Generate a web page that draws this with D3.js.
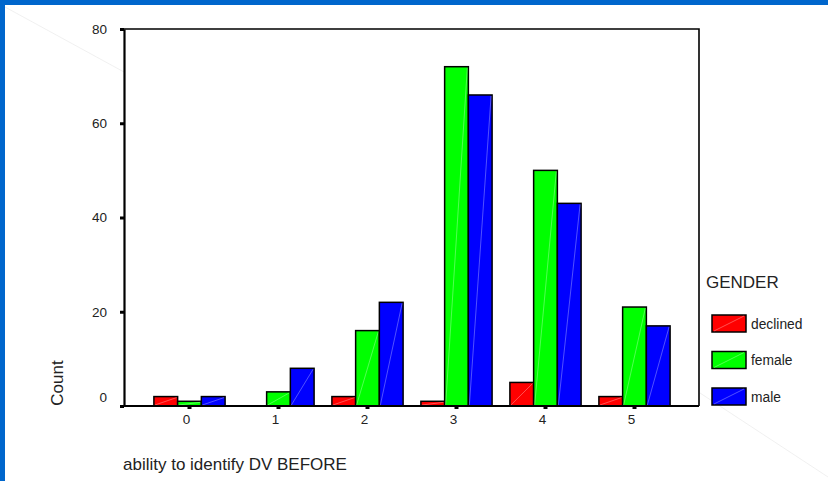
<!DOCTYPE html>
<html><head><meta charset="utf-8">
<script src="https://cdn.jsdelivr.net/npm/d3@7"></script>
<style>
html,body{margin:0;padding:0;background:#fff;}
svg{display:block;font-family:"Liberation Sans",Arial,sans-serif;}
</style></head>
<body>
<svg id="chart" width="828" height="481"></svg>
<script>
const categories = ["0","1","2","3","4","5"];
const seriesNames = ["declined","female","male"];
const declined = [2, 0, 2, 1, 5, 2];
const female   = [1, 3, 16, 72, 50, 21];
const male     = [2, 8, 22, 66, 43, 17];
const yTicks = [0, 20, 40, 60, 80];
const colors = ["#ff0000", "#00ff00", "#0000ff"];
const xTitle = "ability to identify DV BEFORE";
const yTitle = "Count";
const legendTitle = "GENDER";

const seriesValues = [declined, female, male];
const svg = d3.select("#chart");

// slide frame
svg.append("rect").attr("x",0).attr("y",0).attr("width",828).attr("height",481).attr("fill","#fff");
svg.append("line").attr("x1",5).attr("y1",7).attr("x2",124).attr("y2",72).attr("stroke","#e6e6e6").attr("stroke-width",0.6);
svg.append("line").attr("x1",700).attr("y1",393).attr("x2",828).attr("y2",477).attr("stroke","#e6e6e6").attr("stroke-width",0.6);
svg.append("rect").attr("x",0).attr("y",0).attr("width",828).attr("height",5).attr("fill","#0066cc");
svg.append("rect").attr("x",0).attr("y",0).attr("width",5).attr("height",481).attr("fill","#0066cc");

const plot = {left:124, right:699, top:29, bottom:406};

const x0 = d3.scaleBand().domain(categories).range([145, 679]).paddingInner(0.2).paddingOuter(0.1);
const x1 = d3.scaleBand().domain(seriesNames).range([0, x0.bandwidth()]);
const y = d3.scaleLinear().domain([0, 80]).range([plot.bottom, plot.top]);

// plot frame (top and right)
svg.append("path")
  .attr("d", `M${plot.left},${plot.top}H${plot.right}V${plot.bottom}`)
  .attr("fill","none").attr("stroke","#000").attr("stroke-width",1.6);

// bars
const rows = categories.map((c,i)=>({cat:c, vals: seriesNames.map((s,j)=>({s, j, v: seriesValues[j][i]}))}));
const g = svg.append("g");
const groups = g.selectAll("g.grp").data(rows).join("g").attr("class","grp")
  .attr("transform", d=>`translate(${x0(d.cat)},0)`);
const bars = groups.selectAll("g.bar").data(d=>d.vals.filter(v=>v.v>0)).join("g").attr("class","bar");
bars.append("rect")
  .attr("x", d=>x1(d.s)).attr("y", d=>y(d.v))
  .attr("width", x1.bandwidth()).attr("height", d=>y(0)-y(d.v))
  .attr("fill", d=>colors[d.j]).attr("stroke","#000").attr("stroke-width",1.5);
bars.append("line")
  .attr("x1", d=>x1(d.s)+1).attr("y1", y(0)-1)
  .attr("x2", d=>x1(d.s)+x1.bandwidth()-1).attr("y2", d=>y(d.v)+1)
  .attr("stroke","#fff").attr("stroke-opacity",0.45).attr("stroke-width",0.7);

// y axis
const yAxis = svg.append("g").attr("transform",`translate(${plot.left},0)`)
  .call(d3.axisLeft(y).tickValues(yTicks).tickSize(4).tickSizeOuter(0).tickPadding(13));
yAxis.select(".domain").attr("stroke","#000").attr("stroke-width",2.2);
yAxis.selectAll(".tick line").attr("stroke","#000").attr("stroke-width",3);
yAxis.selectAll(".tick text").attr("font-size","13.5px").attr("fill","#222")
  .attr("font-family","Liberation Sans, Arial, sans-serif")
  .attr("dy", d=> d===0 ? "-0.3em" : "0.32em");

// x axis
const xAxis = svg.append("g").attr("transform",`translate(0,${plot.bottom})`)
  .call(d3.axisBottom(x0).tickSize(3).tickSizeOuter(0).tickPadding(5));
xAxis.select(".domain").attr("d", `M${plot.left-3},0H${plot.right}`).attr("stroke","#000").attr("stroke-width",2.2);
xAxis.selectAll(".tick line").attr("stroke","#000").attr("stroke-width",4);
xAxis.selectAll(".tick text").attr("font-size","13.5px").attr("fill","#222")
  .attr("font-family","Liberation Sans, Arial, sans-serif").attr("dx","-3");

// titles
svg.append("text").attr("x",123).attr("y",470).attr("font-size","17px").attr("fill","#222").text(xTitle);
svg.append("text").attr("transform","translate(63,383) rotate(-90)").attr("text-anchor","middle")
  .attr("font-size","17px").attr("fill","#222").text(yTitle);

// legend
const lg = svg.append("g");
lg.append("text").attr("x",706).attr("y",288).attr("font-size","17px").attr("fill","#222").text(legendTitle);
const items = lg.selectAll("g.item").data(seriesNames).join("g").attr("class","item")
  .attr("transform",(d,i)=>`translate(712,${315 + i*36.5})`);
items.append("rect").attr("width",34).attr("height",17).attr("fill",(d,i)=>colors[i])
  .attr("stroke","#000").attr("stroke-width",1.5);
items.append("line").attr("x1",2).attr("y1",16).attr("x2",32).attr("y2",1)
  .attr("stroke","#fff").attr("stroke-opacity",0.45).attr("stroke-width",0.7);
items.append("text").attr("x",39).attr("y",13.5).attr("font-size","13.8px").attr("fill","#222").text(d=>d);
</script>
</body></html>
